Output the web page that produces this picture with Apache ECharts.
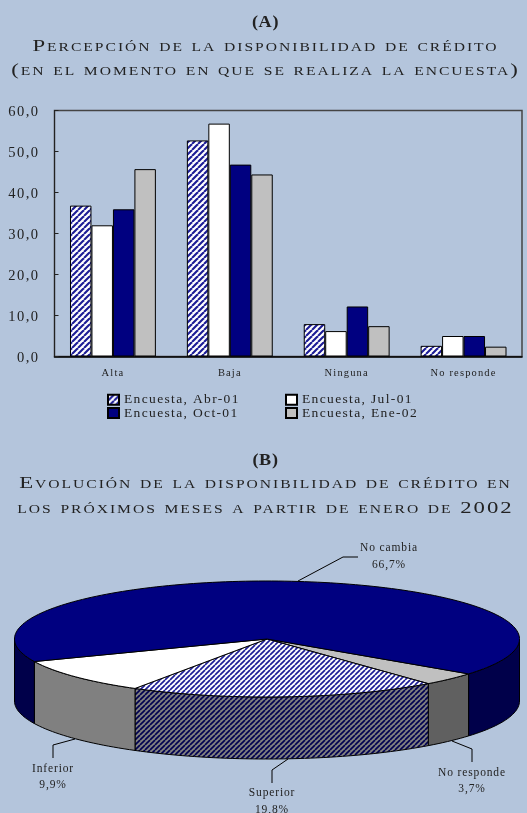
<!DOCTYPE html>
<html>
<head>
<meta charset="utf-8">
<style>html,body{margin:0;padding:0;background:#b4c5dc}#c{width:527px;height:813px}</style>
<script src="https://cdn.jsdelivr.net/npm/echarts@6/dist/echarts.min.js"></script>
</head>
<body>
<div id="c"></div>
<script>
const categories = ['Alta', 'Baja', 'Ninguna', 'No responde'];
const abr01 = [36.8, 52.7, 7.9, 2.6];
const jul01 = [32.0, 56.8, 6.2, 5.0];
const oct01 = [35.9, 46.8, 12.2, 5.0];
const ene02 = [45.7, 44.4, 7.4, 2.4];
const pieNames = ['No responde', 'Superior', 'Inferior', 'No cambia'];
const pieValues = [3.7, 19.8, 9.9, 66.7];

// letter spacing per font size (the reference uses widely tracked type)
const TRACK = {17.5: 1.52, 16.5: 0.6, 14.5: 1.5, 13.5: 1.35, 10.5: 1.15, 11.5: 0.85};
const fd = Object.getOwnPropertyDescriptor(CanvasRenderingContext2D.prototype, 'font');
Object.defineProperty(CanvasRenderingContext2D.prototype, 'font', {
  get() { return fd.get.call(this); },
  set(v) {
    fd.set.call(this, v);
    const m = /([\d.]+)px/.exec(v);
    this.letterSpacing = ((m && TRACK[+m[1]]) || 0) + 'px';
  }
});

const SERIF = '"Liberation Serif"';
const INK = '#222';
function hatch(period, width, bg, fg) {
  const c = document.createElement('canvas');
  c.width = c.height = period;
  const x = c.getContext('2d');
  x.fillStyle = bg; x.fillRect(0, 0, period, period);
  x.strokeStyle = fg; x.lineWidth = width;
  [-period, 0, period].forEach(d => {
    x.beginPath(); x.moveTo(d, period); x.lineTo(d + period, 0); x.stroke();
  });
  return {image: c, repeat: 'repeat'};
}
const barHatch = hatch(6, 2.1, '#fff', '#1c1c96');
const topHatch = hatch(5, 1.7, '#fff', '#1c1c96');
const sideHatch = hatch(5, 1.7, '#808080', '#000050');

const PIE = {cx: 267, cy: 639, rx: 252.5, ry: 58, depth: 62, start: 37};
const pieStyle = {
  'No responde': {top: '#c0c0c0', side: '#606060'},
  'Superior': {top: topHatch, side: sideHatch},
  'Inferior': {top: '#fff', side: '#808080'},
  'No cambia': {top: '#000080', side: '#00004a'}
};
const leaders = {
  'No responde': {line: [[452, 741], [472, 749], [472, 762]], x: 472, y: 781},
  'Superior': {line: [[288, 759], [272, 770], [272, 783]], x: 272, y: 801.5},
  'Inferior': {line: [[75, 739], [53, 745], [53, 758]], x: 53, y: 777},
  'No cambia': {line: [[298, 581], [343, 557], [358, 557]], x: 389, y: 556.5}
};
const pieTotal = pieValues.reduce((a, b) => a + b, 0);
const fmt = v => v.toFixed(1).replace('.', ',');
function pt(deg, dy) {
  const t = deg * Math.PI / 180;
  return [PIE.cx + PIE.rx * Math.cos(t), PIE.cy + PIE.ry * Math.sin(t) + (dy || 0)];
}
function arc(a, b, dy) {
  const pts = [], n = Math.max(2, Math.ceil(Math.abs(b - a) / 1.5));
  for (let i = 0; i <= n; i++) pts.push(pt(a + (b - a) * i / n, dy));
  return pts;
}
function renderPie(params, api) {
  const i = params.dataIndex;
  let before = 0;
  for (let k = 0; k < i; k++) before += pieValues[k];
  const a = PIE.start + before / pieTotal * 360;
  const b = a + api.value(0) / pieTotal * 360;
  const st = pieStyle[pieNames[i]];
  const children = [];
  [[0, 180], [360, 540]].forEach(([lo, hi]) => {
    const s = Math.max(a, lo), e = Math.min(b, hi);
    if (e > s) {
      children.push({type: 'polygon',
        shape: {points: arc(s, e, 0).concat(arc(e, s, PIE.depth))},
        style: {fill: st.side, stroke: '#000', lineWidth: 1}});
    }
  });
  children.push({type: 'polygon',
    shape: {points: [[PIE.cx, PIE.cy]].concat(arc(a, b, 0))},
    style: {fill: st.top, stroke: '#000', lineWidth: 1}});
  const L = leaders[pieNames[i]];
  children.push({type: 'polyline', shape: {points: L.line},
    style: {fill: 'none', stroke: '#000', lineWidth: 1}});
  children.push({type: 'text', z2: 5, style: {
    text: pieNames[i] + '\n' + fmt(api.value(0)) + '%',
    x: L.x, y: L.y, align: 'center', verticalAlign: 'middle',
    lineHeight: 16.5, font: '11.5px ' + SERIF, fill: INK}});
  return {type: 'group', children};
}

const titleLines = [
  {text: '(A)', y: 23, bold: true},
  {text: 'Percepción de la disponibilidad de crédito', y: 46},
  {text: '(en el momento en que se realiza la encuesta)', y: 70},
  {text: '(B)', y: 461, bold: true},
  {text: 'Evolución de la disponibilidad de crédito en', y: 483},
  {text: 'los próximos meses a partir de enero de 2002', y: 508}
];
const bar = (name, data, color) => ({
  name, type: 'bar', data, barGap: 0, barCategoryGap: '26.5%', xAxisIndex: 0, yAxisIndex: 0,
  itemStyle: {color, borderColor: '#000', borderWidth: 1}
});
const legendBase = {
  orient: 'vertical', top: 392, padding: 0, itemWidth: 11, itemHeight: 10, itemGap: -2,
  icon: 'rect', selectedMode: false,
  textStyle: {fontFamily: SERIF, fontSize: 13.5, color: INK}
};
const chart = echarts.init(document.getElementById('c'), null, {renderer: 'canvas', width: 527, height: 813});
chart.setOption({
  animation: false,
  backgroundColor: '#b4c5dc',
  graphic: titleLines.map(t => ({
    type: 'text', x: 265.5, y: t.y, scaleX: t.bold ? 1.1 : 1.3,
    style: {text: t.text, textAlign: 'center', textVerticalAlign: 'middle', fill: INK,
      font: 'small-caps ' + (t.bold ? 'bold 16.5px ' : '17.5px ') + SERIF}
  })),
  grid: {left: 54.5, right: 5, top: 110.5, height: 246, show: true, borderColor: '#444', borderWidth: 1.5, backgroundColor: 'transparent'},
  xAxis: {type: 'category', data: categories,
    axisLine: {lineStyle: {color: '#000', width: 1.5}},
    axisTick: {inside: true, length: 3, lineStyle: {color: '#444'}},
    axisLabel: {fontFamily: SERIF, fontSize: 10.5, color: INK, margin: 11}},
  yAxis: {type: 'value', min: 0, max: 60, interval: 10,
    axisLine: {show: true, lineStyle: {color: '#222', width: 1}},
    axisTick: {show: true, inside: true, length: 4, lineStyle: {color: '#222'}},
    splitLine: {show: false},
    axisLabel: {fontFamily: SERIF, fontSize: 14.5, color: INK, margin: 15, verticalAlign: 'top', lineHeight: 4, formatter: v => fmt(v)}},
  legend: [
    Object.assign({}, legendBase, {left: 107, data: ['Encuesta, Abr-01', 'Encuesta, Oct-01']}),
    Object.assign({}, legendBase, {left: 285, data: ['Encuesta, Jul-01', 'Encuesta, Ene-02']})
  ],
  series: [
    bar('Encuesta, Abr-01', abr01, barHatch),
    bar('Encuesta, Jul-01', jul01, '#fff'),
    bar('Encuesta, Oct-01', oct01, '#000080'),
    bar('Encuesta, Ene-02', ene02, '#c0c0c0'),
    {type: 'custom', coordinateSystem: 'none', renderItem: renderPie,
      data: pieValues.map(v => [v]), silent: true}
  ]
});
</script>
</body>
</html>
